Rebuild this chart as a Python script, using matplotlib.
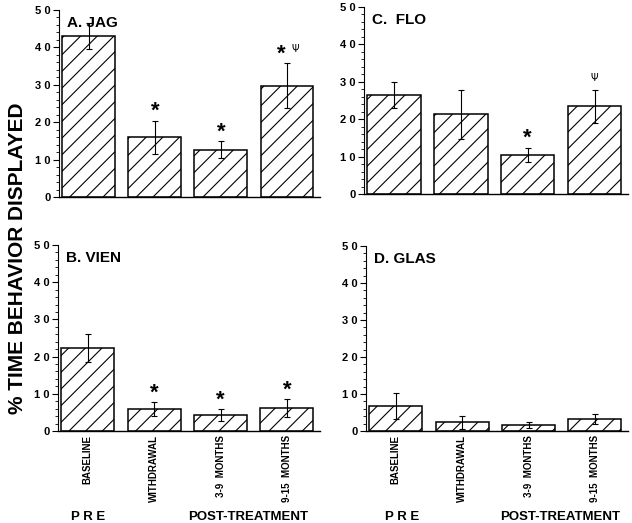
#!/usr/bin/env python3
"""Four-panel bar chart: % time behavior displayed, pre vs post-treatment."""

import matplotlib

matplotlib.use("Agg")
import matplotlib.pyplot as plt
import numpy as np
from matplotlib.ticker import MultipleLocator

plt.rcParams["font.family"] = ["Liberation Sans", "DejaVu Sans"]
plt.rcParams["font.weight"] = "bold"
plt.rcParams["hatch.linewidth"] = 0.8

categories = ["BASELINE", "WITHDRAWAL", "3-9  MONTHS", "9-15  MONTHS"]

jag_mean = [43.0, 16.0, 12.6, 29.8]
jag_err = [3.5, 4.4, 2.3, 5.9]
jag_marks = [("", ""), ("*", ""), ("*", ""), ("*", "Ψ")]

flo_mean = [26.4, 21.3, 10.5, 23.4]
flo_err = [3.5, 6.6, 1.9, 4.3]
flo_marks = [("", ""), ("", ""), ("*", ""), ("", "Ψ")]

vien_mean = [22.3, 5.9, 4.3, 6.2]
vien_err = [3.8, 1.9, 1.6, 2.4]
vien_marks = [("", ""), ("*", ""), ("*", ""), ("*", "")]

glas_mean = [6.8, 2.3, 1.6, 3.2]
glas_err = [3.5, 1.7, 0.7, 1.4]
glas_marks = [("", ""), ("", ""), ("", ""), ("", "")]

y_ticks = [0, 10, 20, 30, 40, 50]
y_labels = ["0", "1 0", "2 0", "3 0", "4 0", "5 0"]

W, H = 632, 523


def ax_rect(left, top, right, bottom):
    return [left / W, 1 - bottom / H, (right - left) / W, (bottom - top) / H]


def draw_panel(ax, title, means, errs, marks, show_xlabels):
    x = np.arange(len(means))
    ax.bar(x, means, width=0.8, color="white", edgecolor="black",
           linewidth=1.1, hatch="//")
    ax.errorbar(x, means, yerr=errs, fmt="none", ecolor="black",
                elinewidth=0.8, capsize=2.5, capthick=0.8)
    for xi, m, e, (star, psi) in zip(x, means, errs, marks):
        top = m + e
        if star and psi:
            ax.annotate(star, (xi, top), xytext=(-4, -1), textcoords="offset points",
                        ha="center", va="bottom", fontsize=16, fontweight="bold")
            ax.annotate(psi, (xi, top), xytext=(6, 7), textcoords="offset points",
                        ha="center", va="bottom", fontsize=7, fontweight="normal",
                        family=["DejaVu Sans"])
        elif star:
            ax.annotate(star, (xi, top), xytext=(0, -1), textcoords="offset points",
                        ha="center", va="bottom", fontsize=16, fontweight="bold")
        elif psi:
            ax.annotate(psi, (xi, top), xytext=(0, 5), textcoords="offset points",
                        ha="center", va="bottom", fontsize=7, fontweight="normal",
                        family=["DejaVu Sans"])
    ax.set_xlim(-0.45, 3.5)
    ax.set_ylim(0, 50)
    ax.set_yticks(y_ticks)
    ax.set_yticklabels(y_labels, fontsize=8, fontweight="bold")
    ax.yaxis.set_minor_locator(MultipleLocator(2))
    ax.tick_params(axis="y", which="major", length=4, width=0.8, pad=2)
    ax.tick_params(axis="y", which="minor", length=2.5, width=0.6)
    ax.spines["top"].set_visible(False)
    ax.spines["right"].set_visible(False)
    ax.spines["left"].set_linewidth(0.8)
    ax.spines["bottom"].set_linewidth(1.0)
    ax.set_xticks(x)
    ax.tick_params(axis="x", length=0, pad=3)
    if show_xlabels:
        ax.set_xticklabels(categories, rotation=90, fontsize=7, fontweight="bold")
    else:
        ax.set_xticklabels([])
    ax.text(0.03, 0.97, title, transform=ax.transAxes, ha="left", va="top",
            fontsize=11, fontweight="bold")


fig = plt.figure(figsize=(W / 100, H / 100), dpi=100)

ax_a = fig.add_axes(ax_rect(59, 10, 320, 197))
ax_c = fig.add_axes(ax_rect(364, 7, 628, 194))
ax_b = fig.add_axes(ax_rect(58, 245, 320, 431))
ax_d = fig.add_axes(ax_rect(366, 246, 628, 431))

draw_panel(ax_a, "A. JAG", jag_mean, jag_err, jag_marks, False)
draw_panel(ax_c, "C.  FLO", flo_mean, flo_err, flo_marks, False)
draw_panel(ax_b, "B. VIEN", vien_mean, vien_err, vien_marks, True)
draw_panel(ax_d, "D. GLAS", glas_mean, glas_err, glas_marks, True)

fig.text(18 / W, 1 - 258 / H, "% TIME BEHAVIOR DISPLAYED", rotation=90,
         ha="center", va="center", fontsize=15, fontweight="bold")

for pre_x, post_x in [(88, 248), (402, 560)]:
    fig.text(pre_x / W, 1 - 517 / H, "P R E", ha="center", va="center",
             fontsize=9.5, fontweight="bold")
    fig.text(post_x / W, 1 - 517 / H, "POST-TREATMENT", ha="center", va="center",
             fontsize=9.5, fontweight="bold")

fig.savefig("out.png", dpi=100)
